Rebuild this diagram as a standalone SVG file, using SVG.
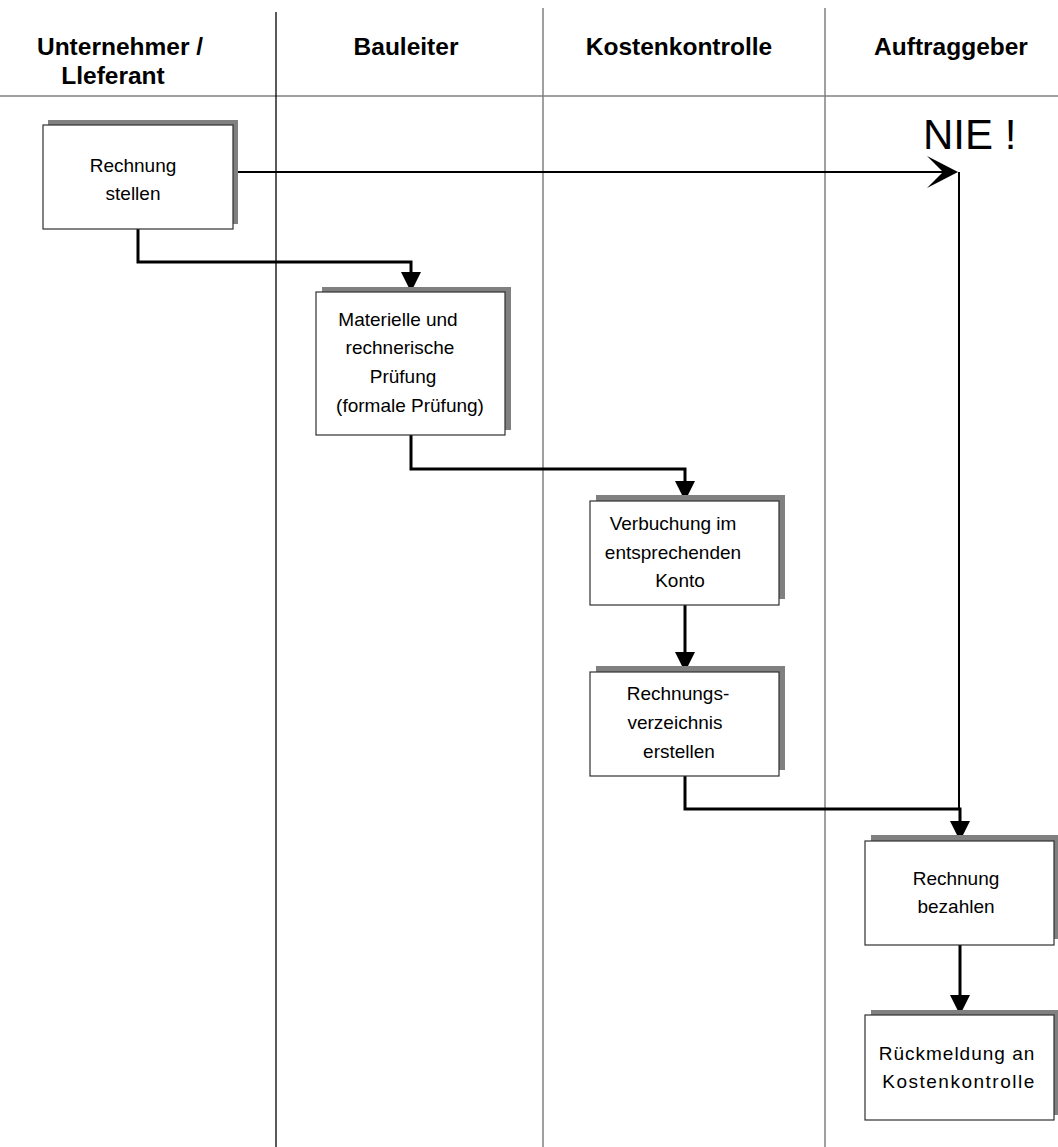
<svg xmlns="http://www.w3.org/2000/svg" width="1058" height="1147" viewBox="0 0 1058 1147">
<style>
.h{font-family:"Liberation Sans",Arial,sans-serif;font-weight:bold;font-size:24.5px;fill:#000;text-anchor:middle}
.t{font-family:"Liberation Sans",Arial,sans-serif;font-size:19px;fill:#000;text-anchor:middle}
.box{fill:#fff;stroke:#303030;stroke-width:1.2}
.sh{fill:#808080}
.lane{stroke:#808080;stroke-width:1.5;fill:none}
.c{stroke:#000;stroke-width:3;fill:none}
.thin{stroke:#000;stroke-width:2;fill:none}
</style>
<defs>
<marker id="ah" markerUnits="userSpaceOnUse" markerWidth="20" markerHeight="20" viewBox="0 0 20 20" refX="16" refY="10" orient="auto">
<path d="M0,0 L20,10 L0,20 z" fill="#000"/>
</marker>
</defs>
<rect width="1058" height="1147" fill="#fff"/>
<g id="lanes">
<line class="lane" x1="0" y1="96" x2="1058" y2="96"/>
<line x1="276" y1="12" x2="276" y2="1147" stroke="#000" stroke-width="1.3"/>
<line class="lane" x1="543" y1="8" x2="543" y2="1147"/>
<line class="lane" x1="825" y1="8" x2="825" y2="1147"/>
</g>
<g id="headers">
<text class="h" x="120" y="55">Unternehmer /</text>
<text class="h" x="113" y="84">Lleferant</text>
<text class="h" x="406" y="55">Bauleiter</text>
<text class="h" x="679" y="55">Kostenkontrolle</text>
<text class="h" x="951" y="55">Auftraggeber</text>
</g>
<g id="nie">
<text x="923" y="149" font-family="'Liberation Sans',Arial,sans-serif" font-size="42">NIE !</text>
</g>
<g id="connectors">
<path class="thin" d="M234,172 H946"/>
<path d="M927,156 L958,172 L927,188 L943,172 z" fill="#000"/>
<path class="thin" d="M959,172 V809"/>
<path class="c" d="M138,229 V262 H411 V288" marker-end="url(#ah)"/>
<path class="c" d="M411,435 V469 H685 V497" marker-end="url(#ah)"/>
<path class="c" d="M685,605 V668" marker-end="url(#ah)"/>
<path class="c" d="M685,776 V809 H960 V837" marker-end="url(#ah)"/>
<path class="c" d="M960,945 V1011" marker-end="url(#ah)"/>
</g>
<g id="n1">
<rect class="sh" x="48" y="120" width="190" height="104"/>
<rect class="box" x="43" y="125" width="190" height="104"/>
<text class="t" x="133" y="172">Rechnung</text>
<text class="t" x="133" y="200">stellen</text>
</g>
<g id="n2">
<rect class="sh" x="322" y="287" width="189" height="143"/>
<rect class="box" x="316" y="292" width="189" height="143"/>
<text class="t" x="398" y="326">Materielle und</text>
<text class="t" x="400" y="354">rechnerische</text>
<text class="t" x="403" y="383">Prüfung</text>
<text class="t" x="410" y="412">(formale Prüfung)</text>
</g>
<g id="n3">
<rect class="sh" x="596" y="495" width="189" height="104"/>
<rect class="box" x="590" y="501" width="189" height="104"/>
<text class="t" x="673" y="530">Verbuchung im</text>
<text class="t" x="673" y="559">entsprechenden</text>
<text class="t" x="680" y="587">Konto</text>
</g>
<g id="n4">
<rect class="sh" x="596" y="666" width="189" height="104"/>
<rect class="box" x="590" y="672" width="189" height="104"/>
<text class="t" x="678" y="700">Rechnungs-</text>
<text class="t" x="675" y="729">verzeichnis</text>
<text class="t" x="679" y="758">erstellen</text>
</g>
<g id="n5">
<rect class="sh" x="871" y="835" width="189" height="104"/>
<rect class="box" x="865" y="841" width="189" height="104"/>
<text class="t" x="956" y="885">Rechnung</text>
<text class="t" x="956" y="913">bezahlen</text>
</g>
<g id="n6">
<rect class="sh" x="871" y="1010" width="189" height="105"/>
<rect class="box" x="865" y="1015" width="189" height="105"/>
<text class="t" x="957" y="1060" letter-spacing="1">Rückmeldung an</text>
<text class="t" x="959" y="1088" letter-spacing="1.5">Kostenkontrolle</text>
</g>
</svg>
